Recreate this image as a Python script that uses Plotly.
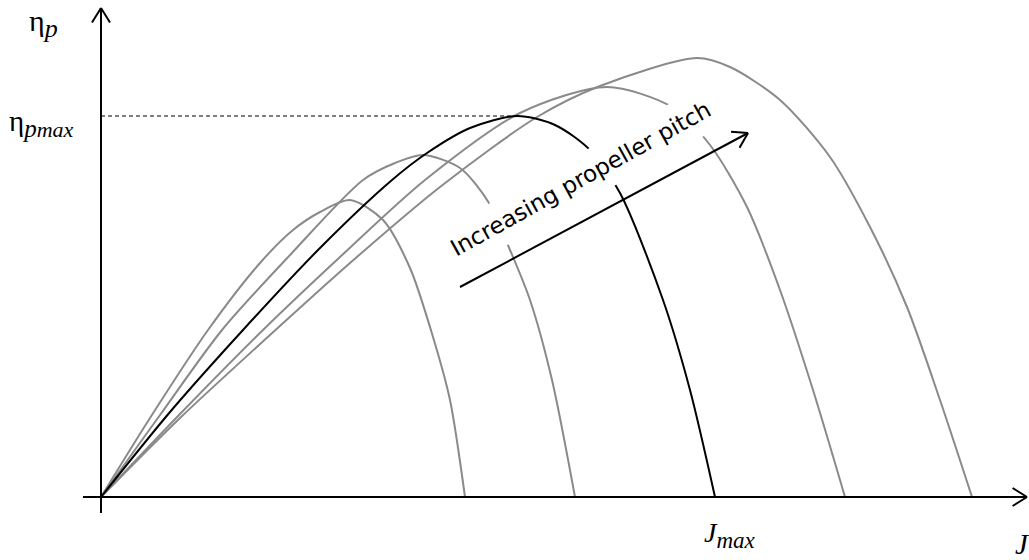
import numpy as np
import plotly.graph_objects as go

# Advance ratio J (arbitrary units) and propeller efficiency eta_p (arbitrary units)
c1_J = [0, 49, 107, 159, 192, 219, 249, 282, 309, 332, 349, 364]
c1_eta = [0, 79, 167, 234, 267, 285, 297, 277, 229, 160, 97, 0]

c2_J = [0, 59, 121, 190, 262, 294, 322, 359, 388, 409, 429, 451, 474]
c2_eta = [0, 82, 167, 243, 317, 334, 342, 329, 294, 247, 197, 117, 0]

c3_J = [0, 69, 142, 219, 291, 326, 369, 416, 454, 489, 519, 562, 589, 614]
c3_eta = [0, 85, 167, 249, 317, 344, 369, 381, 372, 347, 304, 197, 107, 0]

c4_J = [0, 79, 162, 239, 324, 419, 506, 571, 609, 646, 679, 712, 744]
c4_eta = [0, 83, 167, 240, 317, 384, 410, 390, 352, 290, 207, 107, 0]

c5_J = [0, 79, 169, 249, 339, 436, 499, 596, 629, 679, 729, 769, 806, 839, 871]
c5_eta = [0, 79, 162, 234, 310, 380, 411, 439, 430, 397, 340, 270, 190, 97, 0]

GRAY = "#8a8a8a"
SMOOTH = 0.8
fig = go.Figure()
for J, eta in [(c1_J, c1_eta), (c2_J, c2_eta), (c4_J, c4_eta), (c5_J, c5_eta)]:
    fig.add_trace(go.Scatter(x=J, y=eta, mode="lines",
                             line=dict(color=GRAY, width=2, shape="spline", smoothing=SMOOTH),
                             hoverinfo="skip", showlegend=False))
fig.add_trace(go.Scatter(x=c3_J, y=c3_eta, mode="lines",
                         line=dict(color="black", width=2, shape="spline", smoothing=SMOOTH),
                         hoverinfo="skip", showlegend=False))

# dashed line to the maximum efficiency of the highlighted curve
i_max = int(np.argmax(c3_eta))
fig.add_shape(type="line", x0=0, y0=c3_eta[i_max], x1=c3_J[i_max], y1=c3_eta[i_max],
              line=dict(color="black", width=1, dash="4px,3px"), layer="below")

shapes = []
def seg(x0, y0, x1, y1, w=2):
    shapes.append(dict(type="line", x0=x0, y0=y0, x1=x1, y1=y1, xref="x", yref="y",
                       line=dict(color="black", width=w), layer="above"))

def chevron(tx, ty, dx, dy, L=17, ang=32):
    n = np.hypot(dx, dy)
    ux, uy = dx / n, dy / n
    for s in (1, -1):
        a = np.radians(ang) * s
        bx = -(ux * np.cos(a) - uy * np.sin(a))
        by = -(ux * np.sin(a) + uy * np.cos(a))
        seg(tx, ty, tx + L * bx, ty + L * by)

# axes
seg(-18, 0, 926, 0)
chevron(926, 0, 1, 0)
seg(0, -16, 0, 489)
chevron(0, 489, 0, 1)

# "increasing pitch" arrow
ax0, ay0, ax1, ay1 = 359, 210, 647, 364
seg(ax0, ay0, ax1, ay1)
chevron(ax1, ay1, ax1 - ax0, ay1 - ay0)

for s in shapes:
    fig.add_shape(**s)

serif = "Liberation Serif"
anns = [
    dict(x=-58, y=474, text="η<sub><span style='font-size:26px'><i>p</i></span></sub>",
         font=dict(family=serif, size=30, color="black")),
    dict(x=-60, y=374,
         text="η<sub><span style='font-size:25px'><i>p</i></span><span style='font-size:22px'><i>max</i></span></sub>",
         font=dict(family=serif, size=29, color="black")),
    dict(x=629, y=-38,
         text="<i>J</i><sub><span style='font-size:23px'><i>max</i></span></sub>",
         font=dict(family=serif, size=28, color="black")),
    dict(x=921, y=-47, text="<i>J</i>", font=dict(family=serif, size=29, color="black")),
]
for a in anns:
    fig.add_annotation(xref="x", yref="y", showarrow=False, xanchor="center", yanchor="middle", **a)

fig.add_annotation(x=479, y=318, xref="x", yref="y", text="Increasing propeller pitch",
                   showarrow=False, textangle=-29, bgcolor="white", borderpad=9,
                   font=dict(family="DejaVu Sans", size=23, color="black"))

fig.update_layout(
    width=1029, height=560,
    margin=dict(l=0, r=0, t=0, b=0),
    plot_bgcolor="white", paper_bgcolor="white",
    xaxis=dict(visible=False, range=[-101, 928], fixedrange=True),
    yaxis=dict(visible=False, range=[-63, 497], fixedrange=True),
    showlegend=False,
)
fig.write_html("out.html")
